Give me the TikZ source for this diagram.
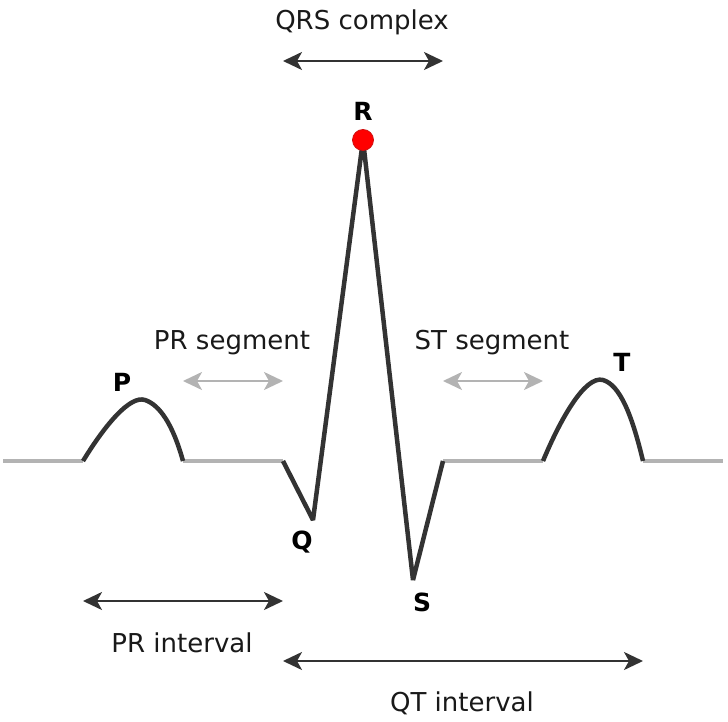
\documentclass[tikz,border=0pt]{standalone}
\usepackage{fontspec}
\setmainfont{DejaVu Sans}
\usetikzlibrary{arrows.meta}
\definecolor{dark}{HTML}{333333}
\definecolor{lgray}{HTML}{B3B3B3}
\definecolor{rdot}{HTML}{FF0000}
\definecolor{rdotline}{HTML}{D01010}
\begin{document}
\begin{tikzpicture}[x=1pt,y=-1pt,
  tip/.tip={Stealth[length=19pt,width=18pt,inset=5pt]},
  wave/.style={draw=dark,line width=4.5pt,line join=miter,miter limit=3},
  base/.style={draw=lgray,line width=4pt},
  darr/.style={draw=dark,line width=2.2pt,tip-tip},
  garr/.style={draw=lgray,line width=2.2pt,tip-tip},
  lbl/.style={font=\fontsize{26}{30}\selectfont,text=dark!50!black,inner sep=0pt},
  wlbl/.style={font=\fontsize{25}{29}\selectfont\bfseries,inner sep=0pt}]
\useasboundingbox (0,0) rectangle (728,722);
% baseline segments
\coordinate (b0) at (3,461);
\coordinate (pS) at (83,461);
\coordinate (pE) at (183,461);
\coordinate (qS) at (283,461);
\coordinate (q) at (313,520);
\coordinate (r) at (363,140);
\coordinate (s) at (413,580);
\coordinate (sE) at (443,461);
\coordinate (tS) at (543,461);
\coordinate (tE) at (643,461);
\coordinate (b1) at (723,461);
\draw[base] (b0) -- (pS);
\draw[base] (pE) -- (qS);
\draw[base] (sE) -- (tS);
\draw[base] (tE) -- (b1);
% P wave
\draw[wave] (pS) .. controls (105,425) and (130,395) .. (145,400) .. controls (160,405) and (173,425) .. (pE);
% T wave
\draw[wave] (tS) .. controls (560,420) and (585,375) .. (603,380) .. controls (620,385) and (632,415) .. (tE);
% QRS
\draw[wave] (qS) -- (q) -- (r) -- (s) -- (sE);
\node[circle,fill=rdot,draw=rdotline,line width=0.8pt,minimum size=21pt,inner sep=0pt] (rdot) at (r) {};
% wave labels
\node[wlbl] (lR) at (363,111) {R};
\node[wlbl] (lP) at (122,382) {P};
\node[wlbl] (lQ) at (302,542) {Q};
\node[wlbl] (lS) at (422,602) {S};
\node[wlbl] (lT) at (622,362) {T};
% QRS complex
\coordinate (qrsA) at (283,61);
\coordinate (qrsB) at (443,61);
\draw[darr] (qrsA) -- (qrsB);
\node[lbl] (tQRS) at (362,22) {QRS complex};
% PR segment
\coordinate (prsA) at (183,381);
\coordinate (prsB) at (283,381);
\draw[garr] (prsA) -- (prsB);
\node[lbl] (tPRS) at (232,343) {PR segment};
% ST segment
\coordinate (stsA) at (443,381);
\coordinate (stsB) at (543,381);
\draw[garr] (stsA) -- (stsB);
\node[lbl] (tSTS) at (492,343) {ST segment};
% PR interval
\coordinate (priA) at (83,601);
\coordinate (priB) at (283,601);
\draw[darr] (priA) -- (priB);
\node[lbl] (tPRI) at (182,643) {PR interval};
% QT interval
\coordinate (qtA) at (283,661);
\coordinate (qtB) at (643,661);
\draw[darr] (qtA) -- (qtB);
\node[lbl] (tQT) at (462,703) {QT interval};
\end{tikzpicture}
\end{document}
